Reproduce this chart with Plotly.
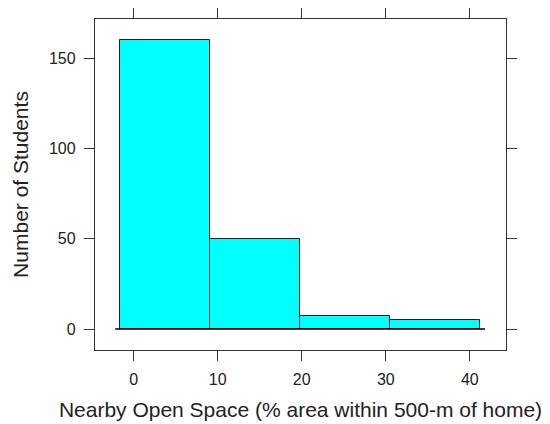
import plotly.graph_objects as go

bin_edges = [-1.6, 9.1, 19.8, 30.5, 41.2]
counts = [160, 50, 7, 5]
x_ticks = [0, 10, 20, 30, 40]
y_ticks = [0, 50, 100, 150]

centers = [(a + b) / 2 for a, b in zip(bin_edges[:-1], bin_edges[1:])]
widths = [b - a for a, b in zip(bin_edges[:-1], bin_edges[1:])]

fig = go.Figure()
fig.add_trace(go.Bar(
    x=centers, y=counts, width=widths,
    marker=dict(color="#00FFFF", line=dict(color="#1a1a1a", width=1)),
    showlegend=False,
))
fig.add_shape(type="line", xref="x", yref="y",
              x0=bin_edges[0] - 0.6, x1=bin_edges[-1] + 0.6, y0=0, y1=0,
              line=dict(color="black", width=1.5))

font = "Liberation Sans, Arial, sans-serif"
fig.update_layout(
    width=542, height=416,
    margin=dict(l=87, r=44, t=11, b=74),
    plot_bgcolor="white", paper_bgcolor="white",
    font=dict(family=font, color="#222222", size=16),
    bargap=0,
    xaxis=dict(range=[-4.6, 44.3], tickvals=x_ticks, ticks="outside", ticklen=10,
               tickcolor="#333333", showline=True, linecolor="#333333", linewidth=1.3,
               mirror="allticks", showgrid=False, zeroline=False, automargin=False,
               tickfont=dict(size=16), ticklabelstandoff=5,
               title=dict(text="Nearby Open Space (% area within 500-m of home)",
                          font=dict(size=21), standoff=14)),
    yaxis=dict(range=[-11.6, 171.6], tickvals=y_ticks, ticks="outside", ticklen=10,
               tickcolor="#333333", showline=True, linecolor="#333333", linewidth=1.3,
               mirror="allticks", showgrid=False, zeroline=False, automargin=False,
               tickfont=dict(size=16), ticklabelstandoff=5,
               title=dict(text="Number of Students", font=dict(size=21), standoff=14)),
)
fig.write_html("out.html")
